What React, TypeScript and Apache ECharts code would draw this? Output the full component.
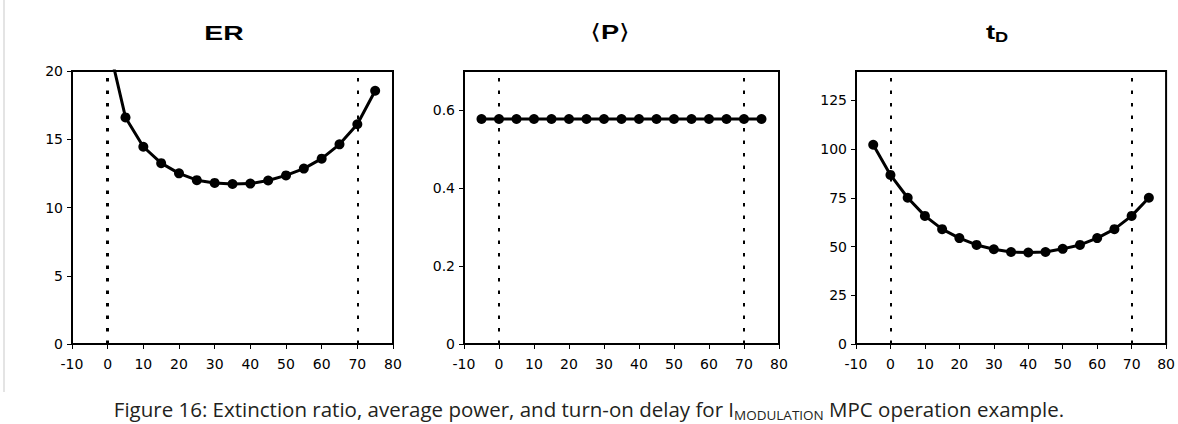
import React, { useEffect, useRef } from "react";
import * as echarts from "echarts";

const xTicks = [-10, 0, 10, 20, 30, 40, 50, 60, 70, 80];
const erX = [0, 5, 10, 15, 20, 25, 30, 35, 40, 45, 50, 55, 60, 65, 70, 75];
const erY = [22.2, 16.6, 14.45, 13.25, 12.5, 12.0, 11.8, 11.72, 11.75, 11.98, 12.35, 12.85, 13.58, 14.63, 16.1, 18.55];
const pX = [-5, 0, 5, 10, 15, 20, 25, 30, 35, 40, 45, 50, 55, 60, 65, 70, 75];
const pY = [0.577, 0.577, 0.577, 0.577, 0.577, 0.577, 0.577, 0.577, 0.577, 0.577, 0.577, 0.577, 0.577, 0.577, 0.577, 0.577, 0.577];
const tdX = [-5, 0, 5, 10, 15, 20, 25, 30, 35, 40, 45, 50, 55, 60, 65, 70, 75];
const tdY = [102.2, 86.7, 75.0, 65.7, 58.9, 54.3, 50.8, 48.6, 47.2, 46.9, 47.2, 48.8, 50.8, 54.3, 58.9, 65.7, 75.0];
const erTicks = [0, 5, 10, 15, 20];
const pTicks = [0, 0.2, 0.4, 0.6];
const tdTicks = [0, 25, 50, 75, 100, 125];
const markers = [0, 70];

const FONT = "'Liberation Sans', Arial, sans-serif";
const LABEL_FONT = "'DejaVu Sans', sans-serif";

const grids = [
  { left: 72, top: 71, width: 321, height: 273 },
  { left: 464, top: 71, width: 315, height: 273 },
  { left: 856, top: 71, width: 311, height: 273 },
];

function xAxisFor(i: number) {
  return {
    type: "value",
    gridIndex: i,
    min: -10,
    max: 80,
    interval: 10,
    axisLine: { show: true, onZero: false, lineStyle: { color: "#000", width: 2 } },
    axisTick: { show: true, length: 5, lineStyle: { color: "#000", width: 1 }, customValues: xTicks },
    axisLabel: { color: "#000", fontSize: 14, fontFamily: LABEL_FONT, margin: 13, customValues: xTicks },
    splitLine: { show: false },
  };
}

function yAxisFor(i: number, max: number, interval: number, ticks: number[]) {
  return {
    type: "value",
    gridIndex: i,
    min: 0,
    max,
    interval,
    axisLine: { show: true, onZero: false, lineStyle: { color: "#000", width: 2 } },
    axisTick: { show: true, length: 5, lineStyle: { color: "#000", width: 1 }, customValues: ticks },
    axisLabel: { color: "#000", fontSize: 14, fontFamily: LABEL_FONT, margin: 9, customValues: ticks },
    splitLine: { show: false },
  };
}

function seriesFor(i: number, xs: number[], ys: number[], firstWidth: number) {
  return {
    type: "line",
    xAxisIndex: i,
    yAxisIndex: i,
    data: xs.map((x, k) => [x, ys[k]]),
    symbol: "circle",
    symbolSize: 10,
    clip: true,
    itemStyle: { color: "#000" },
    lineStyle: { color: "#000", width: 3 },
    markLine: {
      silent: true,
      symbol: "none",
      label: { show: false },
      data: markers.map((m, k) => ({
        xAxis: m,
        lineStyle: { color: "#000", type: [3.5, 9], width: k === 0 ? firstWidth : 2 },
      })),
    },
  };
}

export default function App() {
  const ref = useRef<HTMLDivElement>(null);
  useEffect(() => {
    if (!ref.current) return;
    const chart = echarts.init(ref.current, null, { renderer: "svg" });
    chart.setOption({
      animation: false,
      backgroundColor: "#fff",
      grid: grids.map((g) => ({ ...g, show: true, borderColor: "#000", borderWidth: 2, backgroundColor: "transparent" })),
      xAxis: [0, 1, 2].map((i) => xAxisFor(i)),
      yAxis: [
        yAxisFor(0, 20, 5, erTicks),
        yAxisFor(1, 0.7, 0.2, pTicks),
        yAxisFor(2, 140, 25, tdTicks),
      ],
      series: [
        seriesFor(0, erX, erY, 3),
        seriesFor(1, pX, pY, 2),
        seriesFor(2, tdX, tdY, 2),
      ],
      graphic: [
        { type: "rect", left: 3, top: 0, shape: { width: 2, height: 392 }, style: { fill: "#e4e4e4" } },
        {
          type: "text",
          x: 224,
          y: 32,
          scaleX: 1.35,
          style: { text: "ER", fontSize: 21, fontWeight: "bold", fontFamily: FONT, fill: "#000", align: "center", verticalAlign: "middle" },
        },
        {
          type: "text",
          x: 610,
          y: 32,
          scaleX: 1.3,
          style: {
            text: "{br|⟨}{b|P}{br|⟩}",
            align: "center",
            verticalAlign: "middle",
            rich: {
              br: { fontSize: 21, fontFamily: "'DejaVu Sans', sans-serif", fill: "#000", fontWeight: "normal" },
              b: { fontSize: 21, fontFamily: FONT, fill: "#000", fontWeight: "bold" },
            },
          },
        },
        {
          type: "text",
          x: 997,
          y: 32,
          scaleX: 1.3,
          style: {
            text: "{b|t}{s|D}",
            align: "center",
            verticalAlign: "middle",
            rich: {
              b: { fontSize: 21, fontFamily: FONT, fill: "#000", fontWeight: "bold" },
              s: { fontSize: 14, fontFamily: FONT, fill: "#000", fontWeight: "bold", padding: [10, 0, 0, 0] },
            },
          },
        },
        {
          type: "text",
          x: 589,
          y: 409,
          style: {
            text: "{n|Figure 16: Extinction ratio, average power, and turn-on delay for I}{s|MODULATION}{n| MPC operation example.}",
            align: "center",
            verticalAlign: "middle",
            rich: {
              n: { fontSize: 20.5, fontFamily: "'Open Sans', sans-serif", fill: "#231f20" },
              s: { fontSize: 13.5, fontFamily: "'Open Sans', sans-serif", fill: "#231f20", padding: [11, 0, 0, 0] },
            },
          },
        },
      ],
    });
    return () => chart.dispose();
  }, []);
  return (
    <div
      ref={ref}
      style={{ position: "fixed", left: 0, top: 0, width: 1178, height: 424, background: "#fff" }}
    />
  );
}
